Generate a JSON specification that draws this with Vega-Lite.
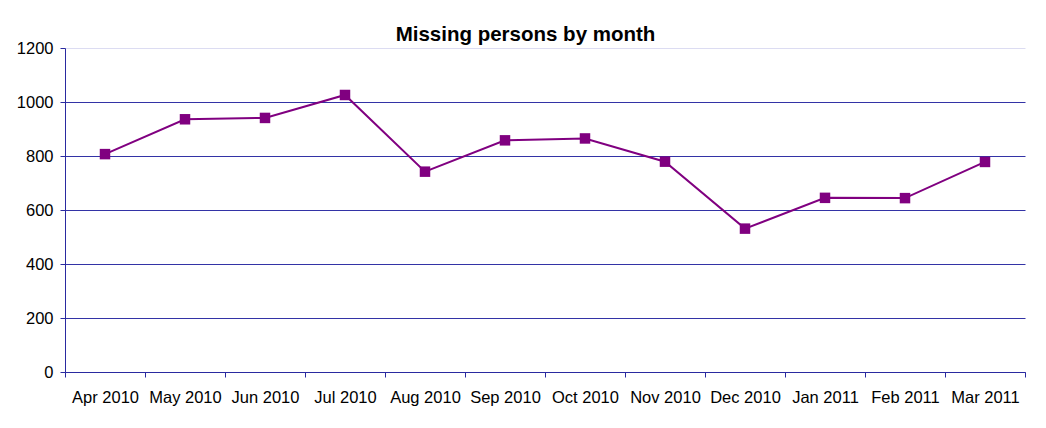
{
  "$schema": "https://vega.github.io/schema/vega-lite/v6.json",
  "width": 960,
  "height": 324,
  "autosize": {"type": "none"},
  "padding": {"left": 65, "top": 48, "right": 21, "bottom": 56},
  "background": "white",
  "title": {
    "text": "Missing persons by month",
    "font": "Liberation Sans",
    "fontSize": 20.5,
    "fontWeight": "bold",
    "color": "black",
    "anchor": "middle",
    "frame": "group",
    "dx": -19.5,
    "dy": 9
  },
  "data": {
    "values": [
      {"month": "Apr 2010", "count": 807},
      {"month": "May 2010", "count": 936},
      {"month": "Jun 2010", "count": 941},
      {"month": "Jul 2010", "count": 1026},
      {"month": "Aug 2010", "count": 742},
      {"month": "Sep 2010", "count": 858},
      {"month": "Oct 2010", "count": 865},
      {"month": "Nov 2010", "count": 779},
      {"month": "Dec 2010", "count": 531},
      {"month": "Jan 2011", "count": 645},
      {"month": "Feb 2011", "count": 644},
      {"month": "Mar 2011", "count": 778}
    ]
  },
  "encoding": {
    "x": {
      "field": "month",
      "type": "ordinal",
      "sort": null,
      "bandPosition": 0.5,
      "scale": {"type": "band", "paddingInner": 0, "paddingOuter": 0},
      "axis": {
        "title": null,
        "labelAngle": 0,
        "tickBand": "extent",
        "tickSize": 5,
        "labelPadding": 12,
        "labelFont": "Liberation Sans",
        "labelFontSize": 16.5,
        "labelColor": "black",
        "domainColor": "#2a2aa0",
        "tickColor": "#2a2aa0",
        "grid": false
      }
    },
    "y": {
      "field": "count",
      "type": "quantitative",
      "scale": {"domain": [0, 1200], "nice": false},
      "axis": {
        "title": null,
        "values": [0, 200, 400, 600, 800, 1000, 1200],
        "format": "d",
        "tickSize": 5,
        "labelPadding": 7,
        "labelFont": "Liberation Sans",
        "labelFontSize": 16.5,
        "labelColor": "black",
        "domainColor": "#2a2aa0",
        "tickColor": "#2a2aa0",
        "grid": true,
        "gridColor": {"condition": {"test": "datum.value == 1200", "value": "#dcdcf2"}, "value": "#3333a6"},
        "gridOpacity": 1,
        "gridWidth": 1
      }
    }
  },
  "layer": [
    {"mark": {"type": "line", "color": "#800080", "strokeWidth": 2}},
    {"mark": {"type": "point", "shape": "square", "size": 110, "filled": true, "color": "#800080", "opacity": 1}}
  ],
  "config": {"view": {"stroke": null}}
}
